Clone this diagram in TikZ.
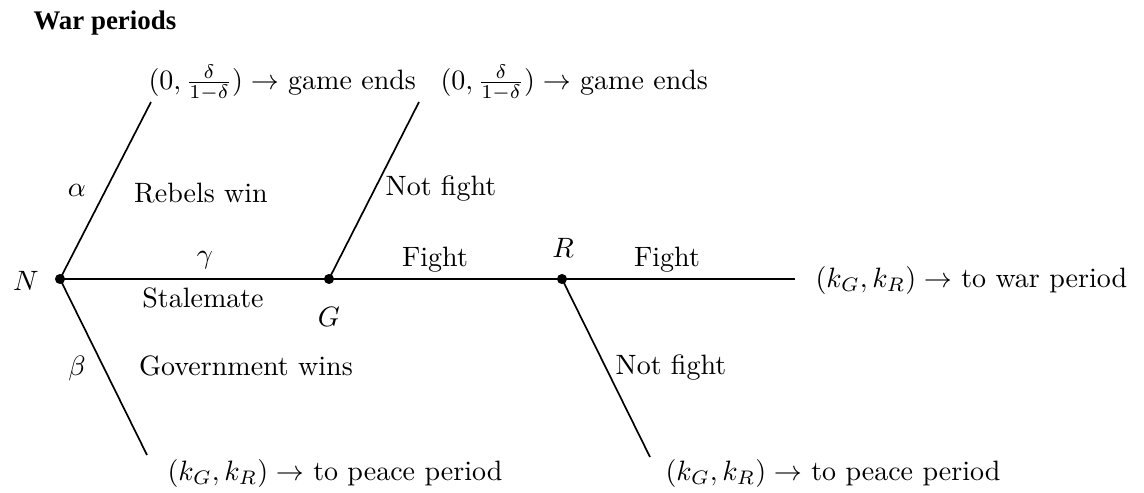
\documentclass[tikz,border=0pt]{standalone}
\usepackage{fontspec}
\newfontfamily\titlefont{Liberation Serif}
\begin{document}
\begin{tikzpicture}[x=0.357pt,y=-0.357pt,
  dot/.style={circle,fill=black,inner sep=0pt,minimum size=3.6pt},
  edge/.style={line width=0.6pt},
  lab/.style={inner sep=0pt},
  pay/.style={inner sep=0pt,anchor=west}]
\useasboundingbox (0,0) rectangle (1144,493);
\node[lab,anchor=west] (title) at (33,23) {\titlefont\fontsize{9.6}{11}\selectfont\bfseries War periods};
% decision nodes
\node[dot] (N) at (60,279) {};
\node[dot] (G) at (329,279) {};
\node[dot] (R) at (562,279) {};
\coordinate (a1) at (151,102);
\coordinate (a2) at (419,102);
\coordinate (b1) at (147,455);
\coordinate (b2) at (650,457);
\coordinate (e) at (795,279);
% payoffs
\node[pay] (p1) at (148,83) {$(0,\frac{\delta}{1-\delta})\rightarrow$ game ends};
\node[pay] (p2) at (440,83) {$(0,\frac{\delta}{1-\delta})\rightarrow$ game ends};
\node[pay] (p3) at (815,280) {$(k_G,k_R)\rightarrow$ to war period};
\node[pay] (p4) at (167,473) {$(k_G,k_R)\rightarrow$ to peace period};
\node[pay] (p5) at (665,473) {$(k_G,k_R)\rightarrow$ to peace period};
% edges
\draw[edge] (N.center) -- (a1);
\draw[edge] (N.center) -- (b1);
\draw[edge] (N.center) -- (G.center) -- (R.center) -- (e);
\draw[edge] (G.center) -- (a2);
\draw[edge] (R.center) -- (b2);
% labels
\node[lab] (lN) at (26,281) {$N$};
\node[lab] (lG) at (329,317) {$G$};
\node[lab] (lR) at (563,248) {$R$};
\node[lab] (lalpha) at (77,190) {$\alpha$};
\node[lab] (lbeta) at (77,368) {$\beta$};
\node[lab] (lgamma) at (205,260) {$\gamma$};
\node[lab] (rw) at (201,193) {Rebels win};
\node[lab] (sm) at (203,298) {Stalemate};
\node[lab] (gw) at (246,366) {Government wins};
\node[lab] (nf1) at (441,189) {Not fight};
\node[lab] (f1) at (435,260) {Fight};
\node[lab] (f2) at (667,260) {Fight};
\node[lab] (nf2) at (671,368) {Not fight};
\end{tikzpicture}
\end{document}
